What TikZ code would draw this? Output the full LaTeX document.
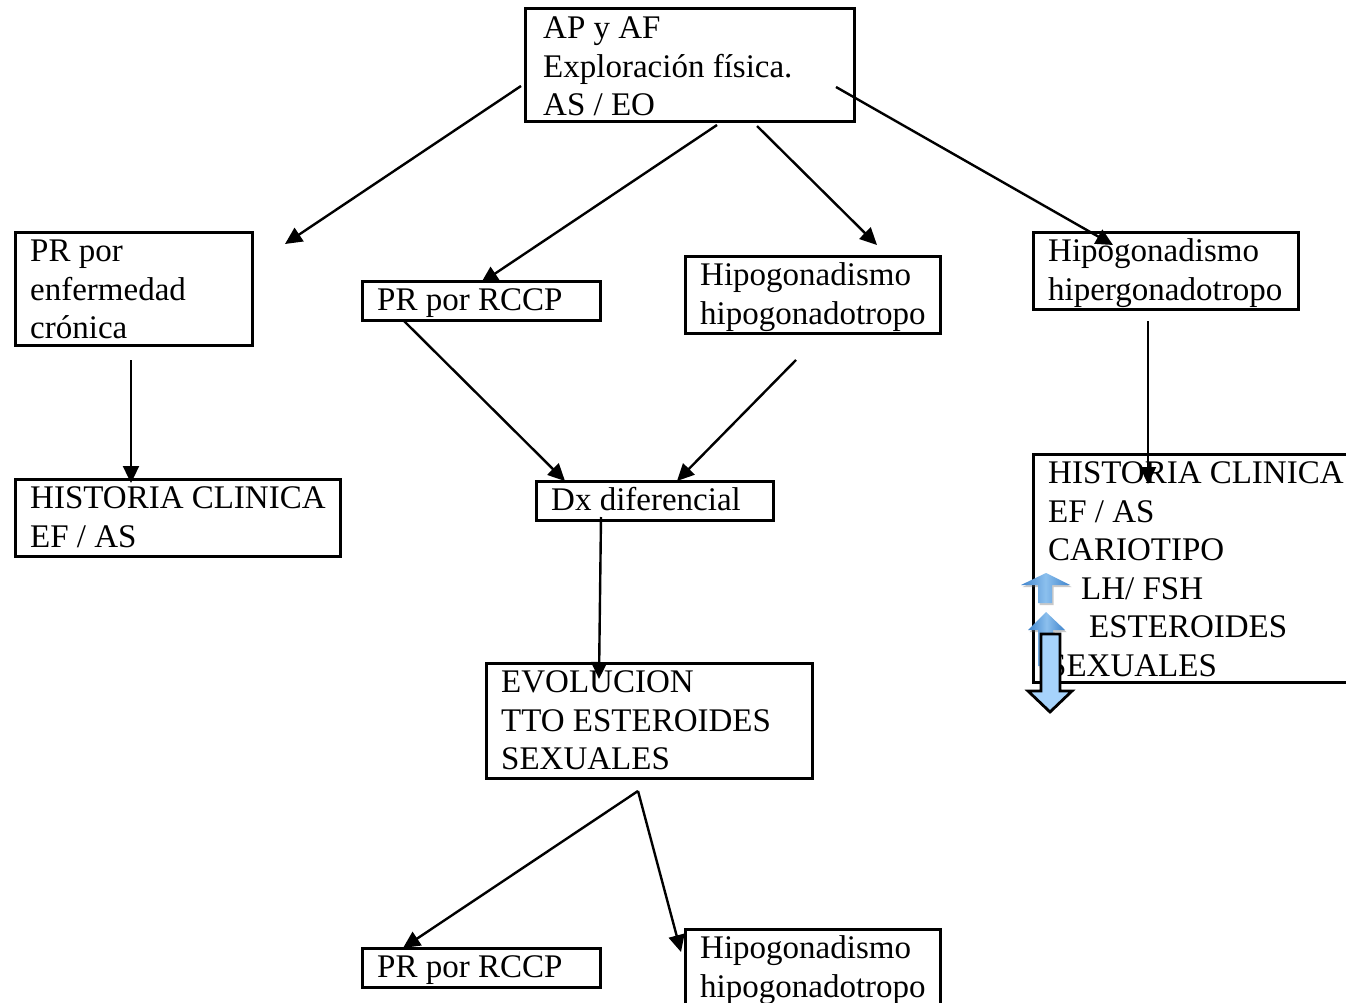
\documentclass[tikz,border=0pt]{standalone}
\usepackage{fontspec}
\setmainfont{Liberation Serif}
\usetikzlibrary{arrows.meta,shadows}
\newcommand\bigfs{\fontsize{33}{38.5}\selectfont}
\definecolor{upblue}{HTML}{3F84CC}
\definecolor{upblueL}{HTML}{8CC0EE}
\definecolor{downblue}{HTML}{A6D3FB}
\tikzset{
  box/.style={draw=black, line width=3pt, fill=none},
  lbl/.style={anchor=north west, inner sep=0pt, align=left, font=\bigfs},
  arr/.style={draw=black, line width=2.4pt, -{Triangle[length=17pt,width=16pt]}},
  uparr/.style={draw=none, shading=axis, shading angle=90, left color=upblue, right color=upblue, middle color=upblueL,
     drop shadow={shadow xshift=1.5pt, shadow yshift=-2pt, opacity=0.35, fill=black!60}},
  downarr/.style={draw=black, line width=2.8pt, fill=downblue}
}
\begin{document}
\begin{tikzpicture}[x=1pt,y=-1pt]
\useasboundingbox (0,0) rectangle (1346,1003);
\clip (0,0) rectangle (1346,1003);
\fill[white] (0,0) rectangle (1346,1003);

% boxes
\draw[box] (525,9) rectangle (854,122);
\node[lbl] (tTop) at (543,11.5) {\strut AP y AF\\Exploración física.\\AS / EO};

\draw[box] (15,232) rectangle (252,345);
\node[lbl] (tEnf) at (30,234.5) {\strut PR por\\enfermedad\\crónica};

\draw[box] (362,281) rectangle (600,320);
\node[lbl] (tRccp) at (377,283.5) {\strut PR por RCCP};

\draw[box] (685,256) rectangle (940,333);
\node[lbl] (tHipo) at (700,258.5) {\strut Hipogonadismo\\hipogonadotropo};

\draw[box] (1033,232) rectangle (1298,309);
\node[lbl] (tHiper) at (1048,234.5) {\strut Hipogonadismo\\hipergonadotropo};

\draw[box] (15,479) rectangle (340,556);
\node[lbl] (tHcL) at (30,481.5) {\strut HISTORIA CLINICA\\EF / AS};

\draw[box] (536,481) rectangle (773,520);
\node[lbl] (tDx) at (551,483.5) {\strut Dx diferencial};

\draw[box] (486,663) rectangle (812,778);
\node[lbl] (tEvol) at (501,665.5) {\strut EVOLUCION\\TTO ESTEROIDES\\SEXUALES};

\draw[box] (1033,454) rectangle (1370,682);
\node[lbl] (tHcR) at (1048,456.5) {\strut HISTORIA CLINICA\\EF / AS\\CARIOTIPO\\\hspace*{33pt}LH/ FSH\\\hspace*{41pt}ESTEROIDES\\SEXUALES};

\draw[box] (362,948) rectangle (600,987);
\node[lbl] (tRccp2) at (377,950.5) {\strut PR por RCCP};

\draw[box] (685,929) rectangle (940,1030);
\node[lbl] (tHipo2) at (700,931.5) {\strut Hipogonadismo\\hipogonadotropo};

% connectors
\coordinate (a1s) at (521,86);   \coordinate (a1e) at (285,244);
\coordinate (a2s) at (717,125);  \coordinate (a2e) at (481,283);
\coordinate (a3s) at (757,126);  \coordinate (a3e) at (877,245);
\coordinate (a4s) at (836,87);   \coordinate (a4e) at (1113,245);
\coordinate (a5s) at (131,360);  \coordinate (a5e) at (131,483);
\coordinate (a6s) at (404,321);  \coordinate (a6e) at (565,481);
\coordinate (a7s) at (796,360);  \coordinate (a7e) at (677,481);
\coordinate (a8s) at (1148,321); \coordinate (a8e) at (1148,484);
\coordinate (a9s) at (601,517);  \coordinate (a9e) at (599,679);
\coordinate (a10s) at (638,791); \coordinate (a10e) at (403,948);
\coordinate (a11e) at (681,952);
\draw[arr] (a1s) -- (a1e);
\draw[arr] (a2s) -- (a2e);
\draw[arr] (a3s) -- (a3e);
\draw[arr] (a4s) -- (a4e);
\draw[arr] (a5s) -- (a5e);
\draw[arr] (a6s) -- (a6e);
\draw[arr] (a7s) -- (a7e);
\draw[arr] (a8s) -- (a8e);
\draw[arr] (a9s) -- (a9e);
\draw[arr] (a10s) -- (a10e);
\draw[arr] (a10s) -- (a11e);

% block arrows
\path[uparr] (1038,603) -- (1038,585) -- (1021,585) -- (1046,573) -- (1070,585) -- (1052,585) -- (1052,603) -- cycle;
\path[uparr] (1038,666) -- (1038,630) -- (1028,630) -- (1046,612) -- (1065,630) -- (1053,630) -- (1053,666) -- cycle;
\draw[downarr, line join=miter] (1041,634) -- (1060,634) -- (1060,691) -- (1072,691) -- (1050,712) -- (1028,691) -- (1041,691) -- cycle;
\end{tikzpicture}
\end{document}
